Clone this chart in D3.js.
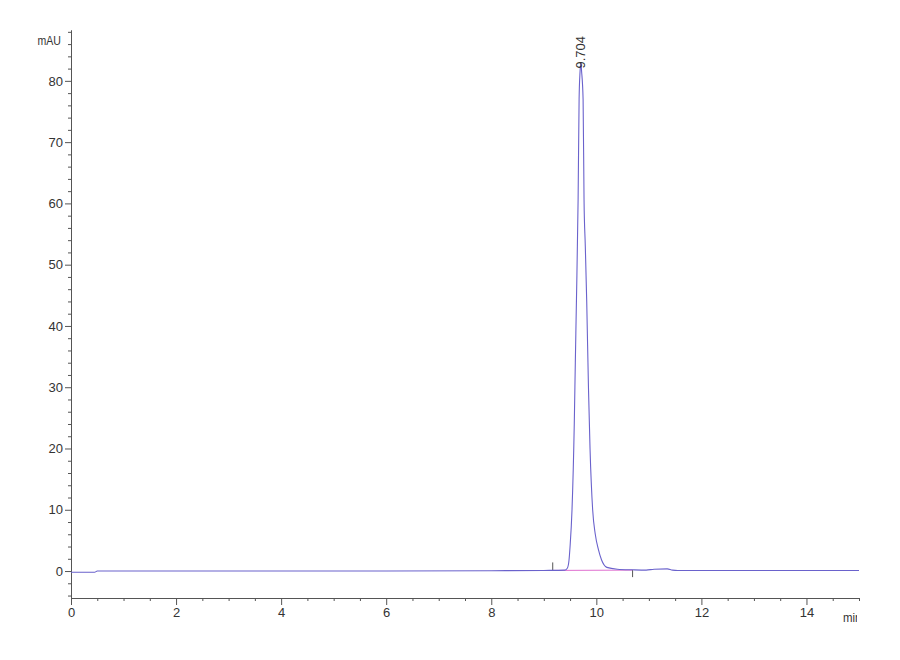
<!DOCTYPE html>
<html>
<head>
<meta charset="utf-8">
<script src="https://cdn.jsdelivr.net/npm/d3@7"></script>
<style>
  body { margin: 0; background: #fff; }
  text { font-family: "Liberation Sans", Arial, sans-serif; fill: #333; }
</style>
</head>
<body>
<script>
// chromatogram trace, time in min and signal in mAU
var times  = [0, 0.45, 0.5, 2, 4, 6, 8, 9.0, 9.4, 9.45, 9.48, 9.5, 9.537, 9.58, 9.6, 9.621, 9.653, 9.672, 9.69, 9.704,
              9.72, 9.748, 9.766, 9.79, 9.817, 9.85, 9.88, 9.93, 9.98, 10.04, 10.1, 10.2, 10.4, 10.69, 10.95, 11.1, 11.35, 11.45, 11.55, 13, 15]
var signal = [-0.2, -0.2, 0, 0, 0, 0, 0.05, 0.1, 0.15, 0.5, 1.8, 4, 10, 24, 34, 44, 60.6, 77, 81.5, 83,
              81.5, 77, 60.6, 53, 44, 30, 20, 10, 6, 3.5, 1.8, 0.6, 0.3, 0.2, 0.15, 0.3, 0.35, 0.15, 0.1, 0.1, 0.1]

// integration baseline of the peak
var baseTimes  = [9.17, 10.69]
var baseValues = [0.1, 0.15]

var peakTime = 9.704
var peakHeight = 83

var xMajor = [0, 2, 4, 6, 8, 10, 12, 14]
var yMajor = [0, 10, 20, 30, 40, 50, 60, 70, 80]

var width = 900, height = 660

var x = d3.scaleLinear().domain([0, 15]).range([71, 859])
var y = d3.scaleLinear().domain([-4.4, 88.3]).range([598, 30])

var svg = d3.select('body').append('svg').attr('width', width).attr('height', height)

// minor ticks every 0.5 min / 2 mAU
var xMinor = d3.range(0, 15.01, 0.5).filter(d => d % 2 !== 0)
var yMinor = d3.range(-4, 88.1, 2).filter(d => d % 10 !== 0)

var xAxis = d3.axisBottom(x).tickValues(xMajor).tickSize(7).tickSizeOuter(0).tickPadding(3)
var yAxis = d3.axisLeft(y).tickValues(yMajor).tickSize(6).tickSizeOuter(0).tickPadding(2)

svg.append('g').attr('transform', `translate(0, ${y.range()[0]})`).call(xAxis)
svg.append('g').attr('transform', `translate(${x.range()[0]}, 0)`).call(yAxis)

svg.append('g').attr('transform', `translate(0, ${y.range()[0]})`)
    .call(d3.axisBottom(x).tickValues(xMinor).tickSize(3).tickSizeOuter(0).tickFormat(''))
svg.append('g').attr('transform', `translate(${x.range()[0]}, 0)`)
    .call(d3.axisLeft(y).tickValues(yMinor).tickSize(3).tickSizeOuter(0).tickFormat(''))

svg.selectAll('.domain, .tick line').attr('stroke', '#555')
svg.selectAll('.tick text').attr('fill', '#333').style('font-size', '13px')
  .style('font-family', '"Liberation Sans", Arial, sans-serif')

// axis titles
svg.append('text').attr('transform', 'translate(61, 45) scale(0.88, 1)').attr('text-anchor', 'end')
  .style('font-size', '12px').text('mAU')

// the unit label is cut off at the right edge of the plot, as in the original export
svg.append('clipPath').attr('id', 'clipMin').append('rect')
  .attr('x', 0).attr('y', 0).attr('width', 857).attr('height', height)
svg.append('g').attr('clip-path', 'url(#clipMin)')
  .append('text').attr('transform', 'translate(843, 622) scale(0.88, 1)')
  .style('font-size', '13px').text('min')

// integration baseline + start/end markers
svg.append('line')
  .attr('x1', x(baseTimes[0])).attr('y1', y(baseValues[0]))
  .attr('x2', x(baseTimes[1])).attr('y2', y(baseValues[1]))
  .attr('stroke', '#e070d0').attr('stroke-width', 1)
svg.append('line')
  .attr('x1', x(baseTimes[0])).attr('x2', x(baseTimes[0]))
  .attr('y1', y(baseValues[0])).attr('y2', y(baseValues[0]) - 8)
  .attr('stroke', '#555')
svg.append('line')
  .attr('x1', x(baseTimes[1])).attr('x2', x(baseTimes[1]))
  .attr('y1', y(baseValues[1])).attr('y2', y(baseValues[1]) + 7)
  .attr('stroke', '#555')

// signal trace
var data = times.map((t, i) => ({t: t, v: signal[i]}))
var line = d3.line()
    .x(d => x(d.t))
    .y(d => y(d.v))
    .curve(d3.curveMonotoneX)

svg.append('path').attr('d', line(data))
  .attr('fill', 'none').attr('stroke', '#6a62cc').attr('stroke-width', 1.1)

// retention time label
svg.append('text')
  .attr('transform', `translate(${x(peakTime) + 4}, ${y(peakHeight) + 6}) rotate(-90)`)
  .style('font-size', '13px').text(peakTime.toFixed(3))
</script>
</body>
</html>
